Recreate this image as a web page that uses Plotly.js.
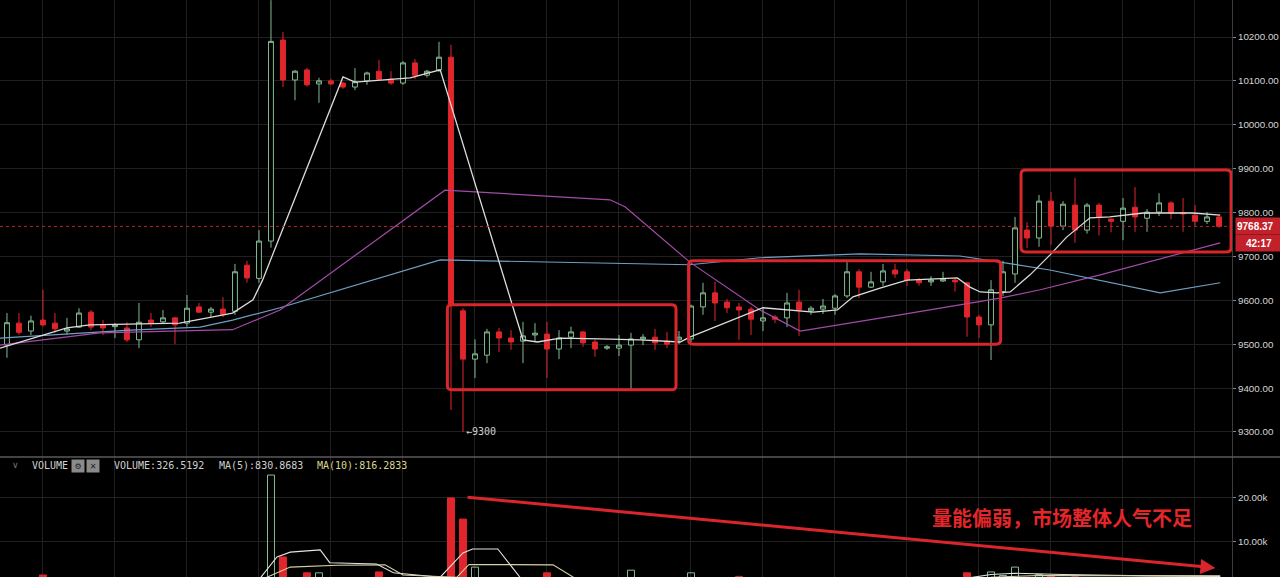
<!DOCTYPE html>
<html>
<head>
<meta charset="utf-8">
<script src="https://cdn.plot.ly/plotly-3.0.1.min.js"></script>
<style>
  html, body { margin: 0; padding: 0; background: #000; }
  #chart { width: 1280px; height: 577px; }
</style>
</head>
<body>
<div id="chart"></div>
<script>
// ---- candle data (one candle per index) ----
const openP = [9498,9548,9530,9555,9548,9530,9539,9573,9544,9540,9537,9510,9555,9551,9560,9548,9585,9573,9580,9575,
  9680,9650,9735,10193,10102,10125,10093,10100,10095,10086,10100,10122,10104,10095,10141,10113,10125,10154,9576,9466,
  9475,9528,9514,9507,9521,9523,9489,9516,9528,9505,9491,9491,9498,9512,9516,9507,9510,9512,9585,9617,
  9596,9585,9580,9553,9562,9560,9596,9576,9580,9582,9610,9665,9630,9642,9669,9665,9646,9642,9644,9646,
  9640,9562,9544,9620,9660,9760,9742,9826,9769,9817,9760,9817,9785,9780,9812,9787,9801,9822,9800,9794,
  9780,9790];
const highP = [9571,9571,9565,9624,9571,9560,9582,9578,9555,9548,9550,9594,9571,9578,9562,9612,9594,9585,9607,9683,
  9690,9760,10284,10211,10125,10130,10107,10105,10098,10129,10121,10148,10122,10145,10150,10125,10189,10182,9582,9511,
  9535,9537,9532,9551,9548,9551,9532,9540,9530,9510,9498,9521,9526,9523,9535,9528,9530,9590,9640,9642,
  9603,9594,9585,9585,9567,9617,9624,9587,9603,9614,9687,9671,9665,9683,9683,9671,9651,9655,9665,9648,
  9642,9567,9646,9690,9790,9778,9840,9847,9826,9879,9822,9822,9786,9833,9858,9808,9844,9826,9833,9817,
  9801,9795];
const lowP = [9469,9521,9521,9540,9526,9522,9537,9532,9521,9514,9505,9491,9539,9548,9500,9540,9571,9562,9562,9567,
  9640,9640,9720,10086,10056,10087,10050,10091,10082,10079,10091,10102,10091,10091,10104,10108,10120,9350,9300,9423,
  9457,9482,9487,9457,9507,9423,9466,9491,9494,9471,9487,9473,9396,9498,9487,9491,9500,9505,9567,9553,
  9571,9510,9521,9530,9548,9539,9519,9567,9569,9567,9605,9605,9628,9633,9651,9633,9633,9633,9642,9620,
  9517,9514,9464,9610,9640,9719,9722,9726,9760,9731,9752,9748,9755,9737,9756,9756,9792,9785,9756,9769,
  9774,9765];
const closeP = [9549,9527,9553,9544,9535,9535,9571,9539,9537,9544,9510,9550,9548,9560,9544,9582,9573,9580,9567,9665,
  9651,9735,10190,10102,10122,10091,10100,10093,10086,10098,10118,10104,10095,10141,10113,10122,10154,9590,9466,9478,
  9528,9514,9505,9519,9525,9489,9514,9528,9503,9489,9494,9498,9512,9516,9503,9500,9516,9587,9617,9594,
  9583,9578,9557,9560,9557,9594,9578,9582,9587,9610,9665,9630,9642,9667,9660,9646,9640,9646,9648,9642,
  9562,9544,9624,9665,9765,9742,9826,9769,9819,9760,9817,9790,9780,9810,9790,9801,9822,9799,9797,9780,
  9790,9768.37];
const volume = [1400,1300,1500,2500,1200,1100,1300,1600,1000,1100,1500,1700,1000,900,1300,1600,1000,900,1200,1800,
  1500,1900,25200,6600,1900,3000,3000,1400,1300,1500,1600,3200,1200,1600,1400,1100,1800,20000,15200,4300,
  1900,1500,1200,1600,1100,3000,1400,1200,1300,1200,900,1100,3600,1000,1200,900,1000,3000,1800,1500,
  1300,2200,1400,1100,900,1600,1900,1000,1100,1300,1900,1600,1000,1400,1100,1200,900,800,900,1000,
  3000,1800,3200,2400,4300,2000,2600,2400,1900,2100,1500,1600,1200,1800,1700,1200,1400,1100,1300,1200,
  1000,900];

// ---- moving averages (index, value) ----
const maWhiteX = [-0.58,5.0,6.9,14.4,18.8,20.5,21.3,28.0,29.0,31.1,33.6,36.1,43.0,44.2,46.1,49.4,52.75,56.1,56.9,63.0,67.2,69.2,70.5,72.75,75.0,79.2,80.25,81.1,82.5,83.6,85.25,86.9,88.3,90.25,91.9,94.7,98.8,101.1];
const maWhiteY = [9491,9537,9544,9548,9571,9601,9646,10109,10097,10102,10107,10125,9510,9505,9514,9512,9510,9505,9516,9583,9573,9578,9608,9628,9646,9651,9630,9619,9617,9619,9658,9703,9744,9788,9790,9799,9799,9794];
const maBlueX = [-0.58,10.25,16.1,18.8,22.75,36.1,56.9,62.75,71.1,79.4,82.75,86.9,96.1,101.1];
const maBlueY = [9514,9532,9539,9555,9583,9692,9681,9697,9706,9701,9687,9669,9617,9640];
const maPurpleX = [-0.58,7.75,18.8,22.75,36.5,43.6,50.25,51.5,56.9,62.75,66.1,74.4,82.75,86.1,91.1,101.1];
const maPurpleY = [9498,9526,9533,9578,9851,9840,9829,9813,9687,9578,9530,9567,9605,9624,9658,9731];

const volMa5X = [-0.58,21.1,22.5,23.6,26.1,26.9,30.8,32.2,36.1,38.0,38.8,40.9,42.75,50,80,82,84,88,95,101.1];
const volMa5Y = [1500,1800,6600,7700,8200,5300,5000,3000,2000,7500,8400,8400,2000,1600,1800,2600,2900,2600,2300,2200];
const volMa10X = [-0.58,21.5,23.6,27.5,31.5,33.0,37.5,38.5,45.5,47.2,60,82,86,101.1];
const volMa10Y = [1400,1800,4300,4700,4800,2500,2000,4900,4800,2000,1500,2000,2400,2300];

const priceTicks = [9300,9400,9500,9600,9700,9800,9900,10000,10100,10200];
const volTicks = [10000,20000];
const volTickText = ['10.00k','20.00k'];
const lastPrice = 9768.37;
const countdown = '42:17';
const headerTexts = ['VOLUME:326.5192','MA(5):830.8683','MA(10):816.2833'];
const noteText = '量能偏弱，市场整体人气不足';

// ---- derived ----
const idx = openP.map((_, i) => i);
const upCol = '#84bc94';
const downCol = '#e0262c';
const isUp = openP.map((o, i) => closeP[i] >= o);
const volFill = isUp.map(u => u ? 'rgba(0,0,0,0)' : downCol);
const volLine = isUp.map(u => u ? upCol : downCol);

const traces = [
  {
    type: 'candlestick', x: idx, open: openP, high: highP, low: lowP, close: closeP,
    xaxis: 'x', yaxis: 'y',
    increasing: { line: { color: upCol, width: 1 }, fillcolor: '#000' },
    decreasing: { line: { color: downCol, width: 1 }, fillcolor: downCol },
    hoverinfo: 'skip'
  },
  { type: 'scatter', mode: 'lines', x: maBlueX, y: maBlueY, line: { color: '#6f9fc2', width: 1.2 }, yaxis: 'y' },
  { type: 'scatter', mode: 'lines', x: maPurpleX, y: maPurpleY, line: { color: '#a44aa9', width: 1.2 }, yaxis: 'y' },
  { type: 'scatter', mode: 'lines', x: maWhiteX, y: maWhiteY, line: { color: '#dcdcdc', width: 1.3 }, yaxis: 'y' },
  {
    type: 'bar', x: idx, y: volume, yaxis: 'y2', width: 0.58,
    marker: { color: volFill, line: { color: volLine, width: 1 } }
  },
  { type: 'scatter', mode: 'lines', x: volMa5X, y: volMa5Y, line: { color: '#e4e4e4', width: 1.1 }, yaxis: 'y2' },
  { type: 'scatter', mode: 'lines', x: volMa10X, y: volMa10Y, line: { color: '#d8d2a0', width: 1.1 }, yaxis: 'y2' }
];

const W = 1232; // plot width in px
const H = 577;
const px = v => v / W;
const py = v => (H - v) / H;
const red = '#d9262c';

// rounded rectangle path in data coordinates (x in candle index, y in price)
function roundRect(x0, x1, y0, y1) {
  const rx = 0.4, ry = 9; // ~5px corner radius
  return `M ${x0 + rx},${y1} L ${x1 - rx},${y1} Q ${x1},${y1} ${x1},${y1 - ry} ` +
         `L ${x1},${y0 + ry} Q ${x1},${y0} ${x1 - rx},${y0} L ${x0 + rx},${y0} ` +
         `Q ${x0},${y0} ${x0},${y0 + ry} L ${x0},${y1 - ry} Q ${x0},${y1} ${x0 + rx},${y1} Z`;
}

const tickFont = { family: 'Liberation Sans, Arial, sans-serif', size: 9.8, color: '#d4d4d4' };

const layout = {
  width: 1280, height: 577,
  margin: { l: 0, r: 48, t: 0, b: 0 },
  paper_bgcolor: '#000', plot_bgcolor: '#000',
  showlegend: false, hovermode: false,
  boxgap: 0.42,
  font: { family: 'DejaVu Sans, sans-serif', color: '#cfcfcf', size: 10 },
  xaxis: {
    range: [-0.58, 102.08], showticklabels: false, ticks: '',
    tick0: 2.92, dtick: 6, showgrid: true, gridcolor: '#202020', gridwidth: 1,
    zeroline: false, showline: false, rangeslider: { visible: false }
  },
  yaxis: {
    domain: [0.208, 1], range: [9243, 10284.3], side: 'right',
    tickvals: priceTicks, tickformat: '.2f', ticks: 'outside', ticklen: 3, tickcolor: '#888',
    showgrid: true, gridcolor: '#202020', zeroline: false,
    showline: true, linecolor: '#3c3c3c', linewidth: 1,
    tickfont: tickFont
  },
  yaxis2: {
    domain: [0, 0.208], range: [2050, 29300], side: 'right', anchor: 'x',
    tickvals: volTicks, ticktext: volTickText, ticks: 'outside', ticklen: 3, tickcolor: '#888',
    showgrid: true, gridcolor: '#202020', zeroline: false,
    showline: true, linecolor: '#3c3c3c', linewidth: 1,
    tickfont: tickFont
  },
  shapes: [
    { type: 'line', xref: 'paper', yref: 'paper', x0: 0, x1: 1280 / W, y0: py(457), y1: py(457), line: { color: '#5a5a5a', width: 1.5 } },
    { type: 'line', xref: 'paper', yref: 'y', x0: 0, x1: 1, y0: lastPrice, y1: lastPrice, line: { color: '#b8262a', width: 1, dash: 'dot' } },
    { type: 'path', xref: 'x', yref: 'y', path: roundRect(36.7, 55.75, 9396, 9590), line: { color: red, width: 3 } },
    { type: 'path', xref: 'x', yref: 'y', path: roundRect(56.8, 82.8, 9500, 9690), line: { color: red, width: 3 } },
    { type: 'path', xref: 'x', yref: 'y', path: roundRect(84.5, 102.0, 9710, 9897), line: { color: red, width: 3 } }
  ],
  annotations: [
    { xref: 'x', yref: 'y', x: 38.1, y: 9300, text: '←9300', showarrow: false, xanchor: 'left', yanchor: 'middle',
      font: { family: 'DejaVu Sans Mono, monospace', size: 10, color: '#d0d0d0' } },
    { xref: 'paper', yref: 'y', x: 1, y: lastPrice, xshift: 3, text: '<b>' + lastPrice.toFixed(2) + '</b>', showarrow: false,
      xanchor: 'left', yanchor: 'middle', bgcolor: '#c2202a', width: 44, height: 14, align: 'left',
      font: { family: 'Liberation Sans, Arial, sans-serif', size: 10, color: '#ffffff' } },
    { xref: 'paper', yref: 'y', x: 1, y: 9730.6, xshift: 3, text: '<b>' + countdown + '</b>', showarrow: false,
      xanchor: 'left', yanchor: 'middle', bgcolor: '#c2202a', width: 44, height: 14, align: 'center',
      font: { family: 'Liberation Sans, Arial, sans-serif', size: 10, color: '#ffffff' } },
    { xref: 'paper', yref: 'paper', x: px(15), y: py(465), text: '∨', showarrow: false, xanchor: 'center', yanchor: 'middle',
      font: { family: 'DejaVu Sans, sans-serif', size: 9, color: '#777' } },
    { xref: 'paper', yref: 'paper', x: px(30), y: py(465), text: 'VOLUME', showarrow: false, xanchor: 'left', yanchor: 'middle',
      font: { family: 'DejaVu Sans Mono, monospace', size: 10, color: '#cfcfcf' } },
    { xref: 'paper', yref: 'paper', x: px(77.5), y: py(465.5), text: '⚙', showarrow: false, xanchor: 'center', yanchor: 'middle',
      bgcolor: '#8a8a8a', width: 10, height: 10, font: { family: 'DejaVu Sans, sans-serif', size: 8, color: '#222' } },
    { xref: 'paper', yref: 'paper', x: px(93.5), y: py(465.5), text: '✕', showarrow: false, xanchor: 'center', yanchor: 'middle',
      bgcolor: '#8a8a8a', width: 10, height: 10, font: { family: 'DejaVu Sans, sans-serif', size: 8, color: '#222' } },
    { xref: 'paper', yref: 'paper', x: px(112), y: py(465), text: headerTexts[0], showarrow: false, xanchor: 'left', yanchor: 'middle',
      font: { family: 'DejaVu Sans Mono, monospace', size: 10, color: '#cfcfcf' } },
    { xref: 'paper', yref: 'paper', x: px(217), y: py(465), text: headerTexts[1], showarrow: false, xanchor: 'left', yanchor: 'middle',
      font: { family: 'DejaVu Sans Mono, monospace', size: 10, color: '#cfcfcf' } },
    { xref: 'paper', yref: 'paper', x: px(315), y: py(465), text: headerTexts[2], showarrow: false, xanchor: 'left', yanchor: 'middle',
      font: { family: 'DejaVu Sans Mono, monospace', size: 10, color: '#dcd68c' } },
    { xref: 'paper', yref: 'paper', x: px(1062), y: py(517), text: noteText, showarrow: false, xanchor: 'center', yanchor: 'middle',
      font: { family: 'Noto Sans CJK SC, sans-serif', size: 20, color: '#e3262a', weight: 'bold' } },
    { xref: 'x', yref: 'y2', x: 100.7, y: 4100, axref: 'x', ayref: 'y2', ax: 38.25, ay: 20200, text: '',
      showarrow: true, arrowhead: 2, arrowsize: 1, arrowwidth: 3, arrowcolor: red }
  ]
};

Plotly.newPlot('chart', traces, layout, { staticPlot: true, displayModeBar: false });
</script>
</body>
</html>
